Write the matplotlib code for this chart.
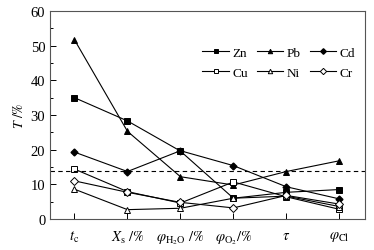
import matplotlib
matplotlib.use("Agg")
import matplotlib.pyplot as plt
from matplotlib.ticker import MultipleLocator

plt.rcParams['font.family'] = ['Liberation Serif', 'DejaVu Serif']
plt.rcParams['mathtext.fontset'] = 'stix'

categories = [r'$t_{\mathrm{c}}$', r'$X_{\mathrm{s}}\ /\%$', r'$\varphi_{\mathrm{H_2O}}\ /\%$',
              r'$\varphi_{\mathrm{O_2}}/\%$', r'$\tau$', r'$\varphi_{\mathrm{Cl}}$']
zn = [35.0, 28.3, 19.6, 6.0, 7.7, 8.5]
pb = [51.7, 25.3, 12.2, 9.8, 13.7, 16.8]
cd = [19.3, 13.7, 19.7, 15.4, 9.3, 5.8]
cu = [14.4, 7.9, 4.6, 10.7, 6.4, 2.8]
ni = [8.6, 2.7, 3.1, 6.0, 6.6, 3.6]
cr = [11.0, 7.7, 4.8, 3.2, 6.8, 4.3]
threshold = 13.9

fig = plt.figure(figsize=(3.74, 2.51), dpi=100)
ax = fig.add_axes([0.134, 0.1235, 0.842, 0.8285])
x = list(range(1, len(categories) + 1))

kw = dict(color='black', lw=0.8, markersize=4, markeredgewidth=0.7)
h_zn, = ax.plot(x, zn, marker='s', label='Zn', **kw)
h_pb, = ax.plot(x, pb, marker='^', label='Pb', **kw)
h_cd, = ax.plot(x, cd, marker='D', markersize=3.5, color='black', lw=0.8, label='Cd')
h_cu, = ax.plot(x, cu, marker='s', mfc='white', label='Cu', **kw)
h_ni, = ax.plot(x, ni, marker='^', mfc='white', label='Ni', **kw)
h_cr, = ax.plot(x, cr, marker='D', mfc='white', label='Cr', **kw)
ax.axhline(threshold, color='black', lw=0.8, ls=(0, (4, 3)))

ax.set_xlim(0.54, 6.485)
ax.set_ylim(0, 60)
ax.set_xticks(x)
ax.set_xticklabels(categories, fontsize=10)
ax.yaxis.set_major_locator(MultipleLocator(10))
ax.yaxis.set_minor_locator(MultipleLocator(5))
ax.tick_params(axis='both', direction='in', labelsize=10.5, top=False, right=False, length=4, width=0.7, colors='black')
ax.tick_params(axis='y', which='minor', direction='in', length=2.5, width=0.7)
ax.tick_params(axis='x', pad=7)
for s in ax.spines.values():
    s.set_color('#555555')
    s.set_linewidth(0.8)
ax.set_ylabel(r'$T\ /\%$', fontsize=10, labelpad=3)

ax.legend([h_zn, h_cu, h_pb, h_ni, h_cd, h_cr], ['Zn', 'Cu', 'Pb', 'Ni', 'Cd', 'Cr'],
          ncol=3, frameon=False, fontsize=9.5, loc='upper right', bbox_to_anchor=(0.998, 0.875),
          handlelength=2.0, handletextpad=0.25, columnspacing=0.7, labelspacing=0.6, borderpad=0.2,
          markerscale=0.8)

fig.savefig('out.png', dpi=100)
